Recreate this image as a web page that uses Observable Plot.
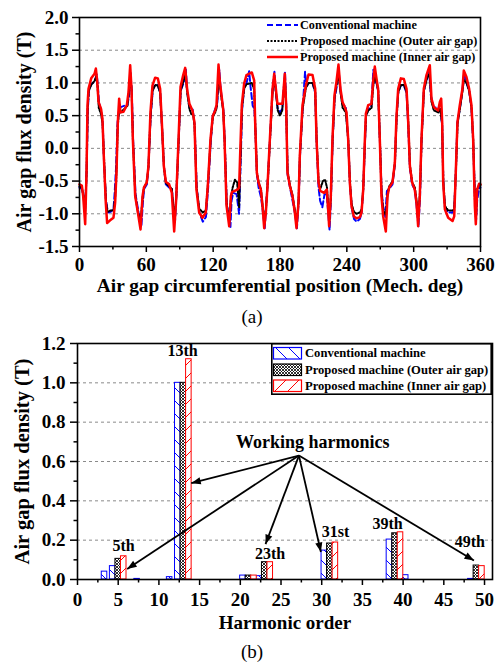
<!DOCTYPE html>
<html>
<head>
<meta charset="utf-8">
<script src="https://cdn.jsdelivr.net/npm/d3@7"></script>
<script src="https://cdn.jsdelivr.net/npm/@observablehq/plot@0.6"></script>
<style>
  html, body { margin: 0; padding: 0; background: #fff; }
  #page { position: relative; width: 496px; height: 662px; overflow: hidden; font-family: "Liberation Serif", serif; }
  .abs { position: absolute; }
  .cap { position: absolute; width: 60px; text-align: center; font-size: 19px; line-height: 20px; color: #000; }
</style>
</head>
<body>
<svg width="0" height="0" style="position:absolute">
  <defs>
    <pattern id="hatchBlue" patternUnits="userSpaceOnUse" width="13" height="13">
      <rect width="13" height="13" fill="#fff"/>
      <path d="M0,0L13,13M-2,11L2,15M11,-2L15,2" stroke="#0000ff" stroke-width="1"/>
    </pattern>
    <pattern id="hatchRed" patternUnits="userSpaceOnUse" width="13" height="13">
      <rect width="13" height="13" fill="#fff"/>
      <path d="M0,13L13,0M-2,2L2,-2M11,15L15,11" stroke="#ff0000" stroke-width="1"/>
    </pattern>
    <pattern id="hatchBlack" patternUnits="userSpaceOnUse" width="3" height="3">
      <rect width="3" height="3" fill="#fff"/>
      <path d="M0,0L3,3M3,0L0,3" stroke="#000" stroke-width="0.8"/>
    </pattern>
  </defs>
</svg>
<div id="page"></div>
<script>
// ---------------- Data: chart (a) air-gap flux density waveform ----------------
const seriesNames = ["Conventional machine", "Proposed machine (Outer air gap)", "Proposed machine (Inner air gap)"];

const conventional = [
[0,-0.6],[2.1,-0.62],[3.3,-0.7],[5.3,-0.85],[6.5,-0.3],[7.5,0.6],[8.5,0.88],[10.5,0.98],[13.5,1.02],[15.5,1.13],[16.5,0.95],[17.5,0.7],[19.4,0.58],[20.8,0.4],[22,-0.2],[23.8,-0.8],[25.5,-0.98],[28,-0.97],[30.5,-0.93],[31.5,-0.7],[32.8,-0.3],[34.2,0.4],[35.6,0.6],[37,0.63],[40,0.65],[43,0.66],[44.5,0.8],[45.8,1.15],[47,0.85],[48.2,0.1],[50.3,-0.7],[53,-0.98],[55.5,-1.2],[57,-0.8],[58,-0.62],[60.5,-0.55],[62,-0.25],[63.9,0.5],[65.8,0.9],[68,0.97],[70.3,0.97],[72.4,0.85],[74,0.35],[75.9,-0.3],[77.5,-0.55],[80.5,-0.6],[82.9,-0.62],[84.8,-1.0],[85.8,-1.1],[87,-0.7],[89,0.1],[90.8,0.88],[93.5,1.0],[95.5,1.2],[96.8,0.85],[98.7,0.63],[101.4,0.62],[103.4,0.35],[105.2,-0.6],[107.6,-0.98],[110.7,-1.12],[113.5,-1.05],[115.5,-0.6],[117.8,0.1],[119.7,0.5],[121.8,0.6],[123.5,0.65],[125.5,1.2],[126.5,0.95],[127.8,0.75],[129.2,0.58],[130.4,0.1],[132.2,-0.85],[135.5,-1.2],[136.5,-0.8],[138,-0.68],[141,-0.7],[143.3,-1.0],[144.5,-0.3],[146,0.6],[148,0.95],[150,1.0],[152.3,1.18],[153.5,0.95],[155.5,0.65],[157,0.6],[157.9,0.3],[159.3,-0.4],[160.8,-0.6],[163,-0.75],[164.5,-0.95],[166.3,-1.22],[167.5,-0.9],[169,-0.5],[171,0.14],[173.3,0.9],[175,1.17],[176.3,0.85],[178,0.6],[180,0.55],[182,0.6],[184.5,1.17],[185.7,0.6],[186.8,-0.4],[189,-0.6],[191.3,-0.8],[193.5,-1.0],[195.2,-1.22],[196.8,-0.8],[198,-0.1],[200.3,0.6],[202.5,1.17],[203.8,0.95],[206,1.0],[209.2,1.0],[211.6,0.85],[212.9,0.1],[214.6,-0.6],[216,-0.8],[218,-0.9],[220,-0.7],[222,-0.7],[224.5,-1.25],[225.8,-0.75],[227.2,0.1],[229,0.75],[231,0.95],[232.6,1.2],[234.5,0.85],[236.3,0.68],[239.1,0.63],[241.3,0.1],[242.8,-0.55],[244.5,-0.92],[246.5,-1.08],[248.7,-1.12],[251.7,-1.08],[253.3,-0.98],[254.8,-0.6],[256.3,0.1],[257.3,0.5],[259.2,0.6],[262,0.65],[263.8,1.2],[265,1.05],[266.6,1.0],[268.1,0.88],[269.7,0.1],[271.2,-0.65],[272.7,-0.9],[274.5,-1.05],[276,-0.65],[278,-0.62],[281,-0.55],[283.1,-0.25],[284.6,0.45],[286.1,0.85],[288.5,0.97],[291.2,0.96],[293.6,0.85],[295.1,0.35],[296.6,-0.3],[298.6,-0.55],[301,-0.63],[302.5,-0.85],[304.3,-1.2],[305.7,-0.75],[307,0.1],[309.1,0.88],[311.5,1.05],[313.8,1.2],[315.5,0.8],[318,0.63],[322,0.62],[324,0.6],[325.6,0.35],[326.6,-0.5],[328,-0.9],[331,-0.98],[334.9,-0.98],[336.4,-0.95],[337.8,-0.37],[339.3,0.4],[341.4,0.6],[343.8,0.9],[345.3,1.15],[347.4,1.0],[349.8,0.88],[351.9,0.62],[353.4,0.1],[354.9,-0.7],[356,-1.1],[357,-0.8],[358.8,-0.6],[360,-0.6]
];

const outerGap = [
[0,-0.58],[2.1,-0.6],[3.3,-0.7],[5.1,-0.95],[6.4,-0.35],[7.3,0.6],[8.3,0.88],[10.5,0.97],[13.5,1.03],[15,1.1],[16.2,0.95],[17.3,0.62],[19.4,0.52],[20.7,0.38],[22,-0.15],[23.7,-0.8],[25.2,-0.97],[28,-0.95],[30.5,-0.95],[32,-0.75],[33.2,-0.35],[34.4,0.35],[35.6,0.58],[37,0.55],[40,0.6],[43,0.65],[44.3,0.85],[45.6,1.15],[46.8,0.88],[48,0.12],[50.1,-0.72],[52.5,-0.98],[54.9,-1.1],[56.7,-0.75],[57.9,-0.6],[60.4,-0.52],[62,-0.27],[63.8,0.5],[65.6,0.88],[68,0.97],[70.3,0.96],[72.4,0.85],[74,0.36],[75.8,-0.28],[77.5,-0.53],[80.5,-0.58],[82.9,-0.62],[85.2,-1.1],[86.9,-0.75],[89,0.12],[90.8,0.88],[93.2,1.02],[95,1.15],[96.7,0.85],[98.7,0.6],[100.5,0.52],[101.8,0.55],[103.3,0.35],[105.1,-0.6],[107.5,-0.92],[110.5,-0.98],[113.4,-0.95],[115.3,-0.55],[117.7,0.12],[119.7,0.48],[121.8,0.55],[123.2,0.62],[125,1.15],[126.1,0.95],[127.6,0.75],[129.1,0.56],[130.3,0.12],[132.1,-0.85],[134.6,-1.12],[136,-0.75],[137.5,-0.6],[139.5,-0.48],[141.5,-0.52],[143.3,-0.9],[144.3,-0.3],[145.8,0.6],[147.9,0.92],[150,0.98],[154.7,1.0],[156.8,0.9],[157.8,0.35],[159.3,-0.37],[160.8,-0.52],[162.9,-0.62],[164.4,-0.88],[166,-1.12],[167.4,-0.92],[168.9,-0.55],[171,0.12],[173.4,0.88],[175,1.08],[176.4,0.85],[178,0.58],[180,0.5],[182,0.58],[184.4,1.08],[185.6,0.62],[186.8,-0.35],[188.9,-0.56],[191.3,-0.72],[193.4,-0.95],[195,-1.15],[196.7,-0.8],[197.9,-0.1],[200.3,0.6],[203.2,0.92],[205.6,1.0],[209.2,1.0],[211.6,0.87],[212.9,0.12],[214.7,-0.52],[216.2,-0.62],[218.5,-0.5],[220.5,-0.48],[222.2,-0.6],[223.4,-0.9],[224.3,-1.12],[225.7,-0.72],[227.2,0.12],[229,0.78],[230.8,0.98],[232.6,1.12],[234.4,0.85],[236.2,0.62],[239.1,0.55],[241.3,0.12],[242.8,-0.52],[244.3,-0.85],[246.4,-0.97],[248.7,-1.0],[251.7,-0.98],[253.3,-0.93],[254.8,-0.6],[256.3,0.12],[257.2,0.5],[259.3,0.58],[262.2,0.62],[263.7,0.95],[265.2,1.12],[266.7,1.0],[268.2,0.88],[269.7,0.12],[271.2,-0.7],[272.7,-0.95],[275,-1.02],[276.6,-0.7],[278.1,-0.58],[281.1,-0.5],[283.2,-0.22],[284.7,0.48],[286.2,0.86],[288.6,0.97],[291.3,0.97],[293.7,0.86],[295.2,0.38],[296.7,-0.27],[298.7,-0.52],[301.1,-0.6],[302.6,-0.8],[304.1,-1.05],[305.6,-0.7],[307.1,0.12],[309.2,0.88],[311.6,1.05],[314.3,1.15],[315.9,0.72],[318.1,0.58],[322,0.55],[323.8,0.6],[325.5,0.38],[326.6,-0.5],[328.1,-0.88],[331,-0.95],[334.9,-0.95],[336.4,-0.93],[337.9,-0.36],[339.4,0.38],[341.5,0.6],[343.9,0.88],[345.1,1.05],[347.5,1.0],[349.9,0.87],[352,0.6],[353.5,0.12],[355,-0.8],[355.9,-1.05],[357.1,-0.62],[358.9,-0.56],[360,-0.56]
];

const innerGap = [
[0,-0.55],[2.1,-0.57],[3.3,-0.73],[5.1,-1.16],[6.3,-0.37],[7.2,0.66],[8.1,0.91],[10.5,1.07],[13.5,1.14],[14.7,1.22],[15.9,1.02],[17.1,0.71],[19.4,0.6],[20.6,0.45],[21.8,-0.11],[23.6,-0.83],[24.8,-1.14],[27.5,-1.1],[30.5,-1.06],[32,-0.83],[33.2,-0.37],[34.4,0.4],[35.6,0.76],[36.8,0.55],[39.5,0.56],[42.5,0.66],[44,0.86],[45.5,1.27],[46.7,0.91],[47.9,0.14],[50,-0.73],[52.4,-0.98],[54.8,-1.24],[56.6,-0.73],[57.8,-0.6],[60.4,-0.52],[61.9,-0.27],[63.7,0.55],[65.5,0.96],[67.9,1.08],[70.3,1.07],[72.4,0.91],[73.9,0.4],[75.7,-0.27],[77.5,-0.51],[80.5,-0.55],[82.9,-0.68],[85,-1.27],[86.8,-0.78],[88.9,0.14],[90.7,0.94],[93.1,1.12],[94.9,1.23],[96.6,0.91],[98.7,0.68],[101.4,0.58],[103.2,0.4],[105,-0.63],[107.4,-0.98],[110.4,-1.06],[113.4,-0.98],[115.2,-0.57],[117.6,0.14],[119.7,0.5],[121.8,0.58],[123,0.66],[124.8,1.28],[126,1.02],[127.5,0.81],[129,0.6],[130.2,0.14],[132,-0.88],[134.4,-1.19],[135.9,-0.73],[136.8,-0.67],[141.8,-0.63],[143.3,-0.6],[144.2,-0.11],[145.7,0.66],[147.8,0.99],[149.9,1.12],[154.7,1.16],[156.8,1.04],[157.7,0.4],[159.2,-0.37],[160.7,-0.52],[162.8,-0.63],[164.3,-0.88],[165.8,-1.22],[167.3,-0.98],[168.8,-0.57],[170.9,0.14],[173.3,0.91],[174.8,1.14],[176.3,0.91],[177.7,0.68],[182.2,0.68],[184.3,1.14],[185.5,0.66],[186.7,-0.37],[188.8,-0.57],[191.2,-0.73],[193.3,-0.98],[194.8,-1.22],[196.6,-0.83],[197.8,-0.11],[200.2,0.66],[203.2,0.96],[205.6,1.13],[209.2,1.12],[211.6,0.91],[212.8,0.14],[214.6,-0.52],[216.1,-0.65],[219.6,-0.68],[222,-0.63],[223.2,-0.93],[224.1,-1.19],[225.6,-0.73],[227.1,0.14],[228.9,0.81],[230.7,1.02],[232.5,1.28],[234.3,0.91],[236.1,0.71],[238.5,0.62],[239.7,0.55],[241.2,0.14],[242.7,-0.52],[244.2,-0.88],[246.3,-1.04],[248.7,-1.07],[251.7,-1.05],[253.2,-0.98],[254.7,-0.63],[256.2,0.14],[257.1,0.53],[259.2,0.66],[262.1,0.68],[263.6,1.02],[265.1,1.25],[266.6,1.07],[268.1,0.91],[269.6,0.14],[271.1,-0.73],[272.6,-1.04],[275,-1.27],[276.5,-0.73],[278,-0.6],[281,-0.52],[283.1,-0.22],[284.6,0.5],[286.1,0.91],[288.5,1.07],[291.2,1.06],[293.6,0.91],[295.1,0.4],[296.6,-0.27],[298.6,-0.52],[301,-0.63],[302.5,-0.83],[304,-1.19],[305.5,-0.73],[307,0.14],[309.1,0.91],[311.5,1.12],[314.5,1.27],[316,0.76],[318.1,0.63],[322,0.58],[323.5,0.71],[324.7,0.76],[325.6,0.4],[326.5,-0.52],[328,-0.93],[331,-1.06],[334.9,-1.11],[336.4,-1.04],[337.8,-0.37],[339.3,0.4],[341.4,0.66],[343.8,0.91],[345,1.19],[347.4,1.09],[349.8,0.91],[351.9,0.66],[353.4,0.14],[354.9,-0.88],[355.8,-1.16],[357,-0.63],[358.8,-0.54],[360,-0.55]
];

const xTicksA = [0, 60, 120, 180, 240, 300, 360];
const xMinorA = [30, 90, 150, 210, 270, 330];
const yTicksA = [-1.5, -1.0, -0.5, 0.0, 0.5, 1.0, 1.5, 2.0];
const yMinorA = [-1.25, -0.75, -0.25, 0.25, 0.75, 1.25, 1.75];
const yGridA = [-1.0, -0.5, 0.0, 0.5, 1.0, 1.5];
const xLabelA = "Air gap circumferential position (Mech. deg)";
const yLabel = "Air gap flux density (T)";

// ---------------- Data: chart (b) harmonic spectrum ----------------
const convHarmonics = [[4,0.04],[5,0.068],[8,0.003],[12,0.012],[13,1.0],[21,0.02],[23,0.017],[31,0.147],[39,0.203],[41,0.022],[49,0.003]];
const outerHarmonics = [[5,0.105],[13,1.0],[21,0.02],[23,0.088],[31,0.183],[39,0.235],[49,0.071]];
const innerHarmonics = [[5,0.118],[13,1.12],[21,0.02],[23,0.088],[31,0.188],[39,0.24],[49,0.068]];

const harmonicLabels = ["5th", "13th", "23th", "31st", "39th", "49th"];
const harmonicLabelX = [5.65, 12.9, 23.65, 31.7, 38.1, 48.2];
const harmonicLabelY = [0.173, 1.164, 0.132, 0.24, 0.285, 0.193];
const workingLabel = "Working harmonics";
const workingLabelPos = [28.9, 0.697];
const arrowFrom = [27.2, 0.63];
const arrowTo = [[6.1, 0.054], [13.97, 0.49], [23.1, 0.18], [29.9, 0.14], [48.7, 0.097]];

const xTicksB = [0, 5, 10, 15, 20, 25, 30, 35, 40, 45, 50];
const xMinorB = [2.5, 7.5, 12.5, 17.5, 22.5, 27.5, 32.5, 37.5, 42.5, 47.5];
const yTicksB = [0.0, 0.2, 0.4, 0.6, 0.8, 1.0, 1.2];
const yMinorB = [0.1, 0.3, 0.5, 0.7, 0.9, 1.1];
const yGridB = [0.2, 0.4, 0.6, 0.8, 1.0];
const xLabelB = "Harmonic order";

// ---------------- Styles ----------------
const FONT = "'Liberation Serif', 'Times New Roman', serif";
const BLUE = "#0000ff", RED = "#ff0000", BLACK = "#000000";
const lineStyles = [
  {stroke: BLUE, strokeWidth: 2, strokeDasharray: "6,3"},
  {stroke: BLACK, strokeWidth: 2, strokeDasharray: "2,1.5"},
  {stroke: RED, strokeWidth: 2.5, strokeDasharray: null}
];
const barStyles = [
  {fill: "url(#hatchBlue)", stroke: BLUE, offset: -0.68},
  {fill: "url(#hatchBlack)", stroke: BLACK, offset: 0},
  {fill: "url(#hatchRed)", stroke: RED, offset: 0.68}
];
const BAR_W = 0.68;
const fmt1 = d => d.toFixed(1);

const page = document.getElementById("page");

function place(node, left, top) {
  node.classList.add("abs");
  node.style.left = left + "px";
  node.style.top = top + "px";
  page.appendChild(node);
}

// ---------------- Chart (a) ----------------
const waveSeries = [conventional, outerGap, innerGap];
const chartA = Plot.plot({
  width: 496, height: 300,
  marginTop: 17, marginBottom: 54, marginLeft: 79, marginRight: 16,
  style: {fontFamily: FONT, fontSize: "19px", fontWeight: "bold", color: "#000", background: "transparent", overflow: "visible"},
  x: {domain: [0, 360]},
  y: {domain: [-1.5, 2.0]},
  marks: [
    Plot.gridY(yGridA, {stroke: "#8a8a8a", strokeOpacity: 1, strokeWidth: 1, strokeDasharray: "3,3"}),
    ...waveSeries.map((s, i) => Plot.line(s, {x: d => d[0], y: d => d[1], ...lineStyles[i], strokeLinejoin: "round"})),
    Plot.frame({stroke: "#000", strokeWidth: 1.6}),
    Plot.axisX(xTicksA, {tickSize: 6, tickPadding: 5, strokeWidth: 1.5, tickFormat: d => String(d), label: null}),
    Plot.axisX(xMinorA, {tickSize: 3.5, strokeWidth: 1.5, tickFormat: () => "", label: null}),
    Plot.axisY(yTicksA, {tickSize: 7, tickPadding: 4, strokeWidth: 1.5, tickFormat: fmt1, label: null}),
    Plot.axisY(yMinorA, {tickSize: 3.5, strokeWidth: 1.5, tickFormat: () => "", label: null}),
    Plot.text([xLabelA], {text: d => d, frameAnchor: "bottom", dy: 39, lineAnchor: "middle", fontSize: 19.3, fontWeight: "bold"}),
    Plot.text([yLabel], {text: d => d, frameAnchor: "left", dx: -55, rotate: -90, textAnchor: "middle", lineAnchor: "middle", fontSize: 20, fontWeight: "bold"})
  ]
});
place(chartA, 0, 0);

// legend (a)
(function () {
  const svg = d3.create("svg").attr("width", 230).attr("height", 70).style("overflow", "visible");
  const rows = [25, 41, 57];
  seriesNames.forEach((name, i) => {
    svg.append("line").attr("x1", 4).attr("x2", 35).attr("y1", rows[i]).attr("y2", rows[i])
      .attr("stroke", lineStyles[i].stroke).attr("stroke-width", lineStyles[i].strokeWidth)
      .attr("stroke-dasharray", lineStyles[i].strokeDasharray);
    svg.append("text").attr("x", 37).attr("y", rows[i]).attr("dy", "0.33em")
      .attr("font-family", FONT).attr("font-weight", "bold").attr("font-size", 12.2)
      .text(name);
  });
  place(svg.node(), 263, 0);
})();

// caption (a)
(function () {
  const d = document.createElement("div");
  d.className = "cap"; d.textContent = "(a)";
  d.style.left = "222px"; d.style.top = "307px";
  page.appendChild(d);
})();

// ---------------- Chart (b) ----------------
const harmSeries = [convHarmonics, outerHarmonics, innerHarmonics];
function filledArrow(color) {
  const ns = "http://www.w3.org/2000/svg";
  const m = document.createElementNS(ns, "marker");
  m.setAttribute("viewBox", "-10 -5 10 10");
  m.setAttribute("markerWidth", 10);
  m.setAttribute("markerHeight", 10);
  m.setAttribute("markerUnits", "userSpaceOnUse");
  m.setAttribute("refX", 0);
  m.setAttribute("refY", 0);
  m.setAttribute("orient", "auto");
  const p = document.createElementNS(ns, "path");
  p.setAttribute("d", "M-9.5,-3.6L0,0L-9.5,3.6Z");
  p.setAttribute("fill", color);
  p.setAttribute("stroke", "none");
  m.appendChild(p);
  return m;
}
const labelRows = harmonicLabels.map((t, i) => ({t, x: harmonicLabelX[i], y: harmonicLabelY[i]}));

const chartB = Plot.plot({
  width: 496, height: 300,
  marginTop: 13, marginBottom: 51, marginLeft: 77, marginRight: 4,
  style: {fontFamily: FONT, fontSize: "19px", fontWeight: "bold", color: "#000", background: "transparent", overflow: "visible"},
  x: {domain: [0, 50.98]},
  y: {domain: [0, 1.2]},
  marks: [
    Plot.gridY(yGridB, {stroke: "#8a8a8a", strokeOpacity: 1, strokeWidth: 1, strokeDasharray: "3,3"}),
    ...harmSeries.map((s, i) => Plot.rectY(s, {
      x1: d => d[0] + barStyles[i].offset - BAR_W / 2,
      x2: d => d[0] + barStyles[i].offset + BAR_W / 2,
      y: d => d[1],
      fill: barStyles[i].fill, stroke: barStyles[i].stroke, strokeWidth: 1
    })),
    Plot.link(arrowTo, {x1: () => arrowFrom[0], y1: () => arrowFrom[1], x2: d => d[0], y2: d => d[1],
      stroke: "#000", strokeWidth: 1.8, markerEnd: filledArrow}),
    Plot.text(labelRows, {x: "x", y: "y", text: "t", lineAnchor: "middle", fontSize: 16, fontWeight: "bold"}),
    Plot.text([workingLabel], {x: () => workingLabelPos[0], y: () => workingLabelPos[1], text: d => d, lineAnchor: "middle", fontSize: 18, fontWeight: "bold"}),
    Plot.frame({stroke: "#000", strokeWidth: 1.6}),
    Plot.axisX(xTicksB, {tickSize: 6, tickPadding: 7, strokeWidth: 1.5, tickFormat: d => String(d), label: null}),
    Plot.axisX(xMinorB, {tickSize: 3.5, strokeWidth: 1.5, tickFormat: () => "", label: null}),
    Plot.axisY(yTicksB, {tickSize: 7, tickPadding: 5, strokeWidth: 1.5, tickFormat: fmt1, label: null}),
    Plot.axisY(yMinorB, {tickSize: 3.5, strokeWidth: 1.5, tickFormat: () => "", label: null}),
    Plot.text([xLabelB], {text: d => d, frameAnchor: "bottom", dy: 43, lineAnchor: "middle", fontSize: 19, fontWeight: "bold"}),
    Plot.text([yLabel], {text: d => d, frameAnchor: "left", dx: -55, rotate: -90, textAnchor: "middle", lineAnchor: "middle", fontSize: 20.5, fontWeight: "bold"})
  ]
});
place(chartB, 0, 330);

// legend (b)
(function () {
  const W = 221, H = 52;
  const svg = d3.create("svg").attr("width", W).attr("height", H).style("overflow", "visible");
  svg.append("rect").attr("x", 0.8).attr("y", 0.8).attr("width", W - 1.6).attr("height", H - 1.6)
    .attr("fill", "#fff").attr("stroke", "#000").attr("stroke-width", 1.6);
  const rows = [10, 26.5, 42.5];
  seriesNames.forEach((name, i) => {
    svg.append("rect").attr("x", 2.5).attr("y", rows[i] - 5.5).attr("width", 28).attr("height", 11.5)
      .attr("fill", barStyles[i].fill).attr("stroke", barStyles[i].stroke).attr("stroke-width", 1.2);
    svg.append("text").attr("x", 34).attr("y", rows[i]).attr("dy", "0.33em")
      .attr("font-family", FONT).attr("font-weight", "bold").attr("font-size", 12.6)
      .text(name);
  });
  place(svg.node(), 271, 343);
})();

// caption (b)
(function () {
  const d = document.createElement("div");
  d.className = "cap"; d.textContent = "(b)";
  d.style.left = "222px"; d.style.top = "642px";
  page.appendChild(d);
})();
</script>
</body>
</html>
